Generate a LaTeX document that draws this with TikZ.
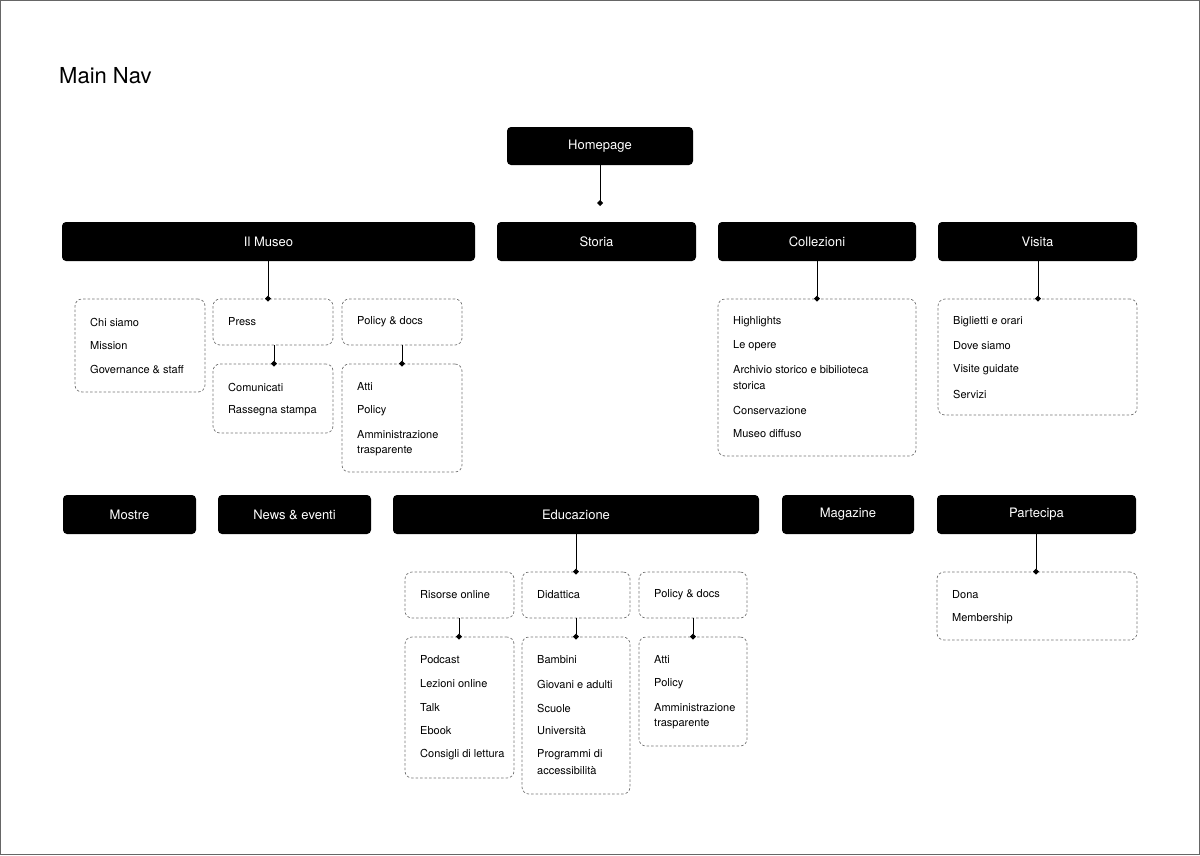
\documentclass[tikz,border=0pt]{standalone}
\usepackage{fontspec}
\setmainfont{TeX Gyre Heros}
\usetikzlibrary{arrows.meta}
\begin{document}
\begin{tikzpicture}[x=1pt,y=-1pt,
  hd/.style={fill=black,rounded corners=4pt,text=white,font=\fontsize{13}{15}\selectfont,inner sep=0pt},
  db/.style={draw=black!55,dash pattern=on 2.5pt off 2pt,rounded corners=7pt,line width=0.7pt,inner sep=0pt},
  it/.style={anchor=west,font=\fontsize{11}{13}\selectfont,inner sep=0pt},
  cn/.style={draw=black,line width=0.9pt,-{Diamond[length=6pt,width=6pt]},shorten >=-3pt}]
\newcommand{\hdx}[6]{\node[hd,minimum width={#3-#1},minimum height={#4-#2}] (#5) at ({(#1+#3)/2},{(#2+#4)/2}) {#6};}
\newcommand{\dbx}[5]{\node[db,minimum width={#3-#1},minimum height={#4-#2}] (#5) at ({(#1+#3)/2},{(#2+#4)/2}) {};}
\newcommand{\itm}[4]{\node[it] (#1) at (#2,#3) {#4};}
\draw[black!60,line width=0.8pt] (0.5,0.5) rectangle (1199.5,854.5);
\useasboundingbox (0,0) rectangle (1200,855);
\node[anchor=west,inner sep=0pt,font=\fontsize{22}{24}\selectfont] (title) at (59,76) {Main Nav};
% headers
\hdx{507}{127}{693}{165}{home}{Homepage}
\hdx{62}{222}{475}{261}{museo}{Il Museo}
\hdx{497}{222}{696}{261}{storia}{Storia}
\hdx{718}{222}{916}{261}{coll}{Collezioni}
\hdx{938}{222}{1137}{261}{visita}{Visita}
\hdx{63}{495}{196}{534}{mostre}{Mostre}
\hdx{218}{495}{371}{534}{news}{News \& eventi}
\hdx{393}{495}{759}{534}{edu}{Educazione}
\hdx{782}{495}{914}{534}{mag}{Magazine}
\hdx{937}{495}{1136}{534}{part}{Partecipa}
\coordinate (homeend) at (600,203);
\draw[cn] (home.south -| homeend) -- (homeend);
% Il Museo
\dbx{75}{299}{205}{392}{chi}
\itm{i1}{90}{322}{Chi siamo}\itm{i2}{90}{346}{Mission}\itm{i3}{90}{370}{Governance \& staff}
\dbx{213}{299}{333}{345}{press}
\itm{i4}{228}{322}{Press}
\dbx{342}{299}{462}{345}{pol}
\itm{i5}{357}{322}{Policy \& docs}
\dbx{213}{364}{333}{433}{com}
\itm{i6}{228}{387}{Comunicati}\itm{i7}{228}{411}{Rassegna stampa}
\dbx{342}{364}{462}{472}{atti}
\itm{i8}{357}{387}{Atti}\itm{i9}{357}{411}{Policy}\itm{i10}{357}{435}{Amministrazione}\itm{i11}{357}{451}{trasparente}
\coordinate (c1) at (268,0);\coordinate (c2) at (274,0);\coordinate (c3) at (402,0);
\draw[cn] (museo.south -| c1) -- (press.north -| c1);
\draw[cn] (press.south -| c2) -- (com.north -| c2);
\draw[cn] (pol.south -| c3) -- (atti.north -| c3);
% Collezioni
\dbx{718}{299}{916}{456}{cb}
\itm{i12}{733}{322}{Highlights}\itm{i13}{733}{346}{Le opere}\itm{i14}{733}{370}{Archivio storico e bibilioteca}\itm{i15}{733}{386}{storica}\itm{i16}{733}{410}{Conservazione}\itm{i17}{733}{434}{Museo diffuso}
\coordinate (c4) at (817,0);
\draw[cn] (coll.south -| c4) -- (cb.north -| c4);
% Visita
\dbx{938}{299}{1137}{415}{vb}
\itm{i18}{953}{322}{Biglietti e orari}\itm{i19}{953}{346}{Dove siamo}\itm{i20}{953}{370}{Visite guidate}\itm{i21}{953}{394}{Servizi}
\coordinate (c5) at (1038,0);
\draw[cn] (visita.south -| c5) -- (vb.north -| c5);
% Educazione
\dbx{405}{572}{514}{618}{ris}\itm{i22}{420}{595}{Risorse online}
\dbx{522}{572}{630}{618}{did}\itm{i23}{537}{595}{Didattica}
\dbx{639}{572}{747}{618}{pol2}\itm{i24}{654}{595}{Policy \& docs}
\dbx{405}{637}{514}{778}{pod}
\itm{i25}{420}{660}{Podcast}\itm{i26}{420}{684}{Lezioni online}\itm{i27}{420}{708}{Talk}\itm{i28}{420}{731}{Ebook}\itm{i29}{420}{755}{Consigli di lettura}
\dbx{522}{637}{630}{794}{bam}
\itm{i30}{537}{660}{Bambini}\itm{i31}{537}{684}{Giovani e adulti}\itm{i32}{537}{708}{Scuole}\itm{i33}{537}{731}{Università}\itm{i34}{537}{755}{Programmi di}\itm{i35}{537}{771}{accessibilità}
\dbx{639}{637}{747}{746}{atti2}
\itm{i36}{654}{660}{Atti}\itm{i37}{654}{684}{Policy}\itm{i38}{654}{708}{Amministrazione}\itm{i39}{654}{724}{trasparente}
\coordinate (c6) at (576,0);\coordinate (c7) at (459,0);\coordinate (c8) at (693,0);
\draw[cn] (edu.south -| c6) -- (did.north -| c6);
\draw[cn] (ris.south -| c7) -- (pod.north -| c7);
\draw[cn] (did.south -| c6) -- (bam.north -| c6);
\draw[cn] (pol2.south -| c8) -- (atti2.north -| c8);
% Partecipa
\dbx{937}{572}{1137}{640}{pb}
\itm{i40}{952}{595}{Dona}\itm{i41}{952}{619}{Membership}
\coordinate (c9) at (1036,0);
\draw[cn] (part.south -| c9) -- (pb.north -| c9);
\end{tikzpicture}
\end{document}
